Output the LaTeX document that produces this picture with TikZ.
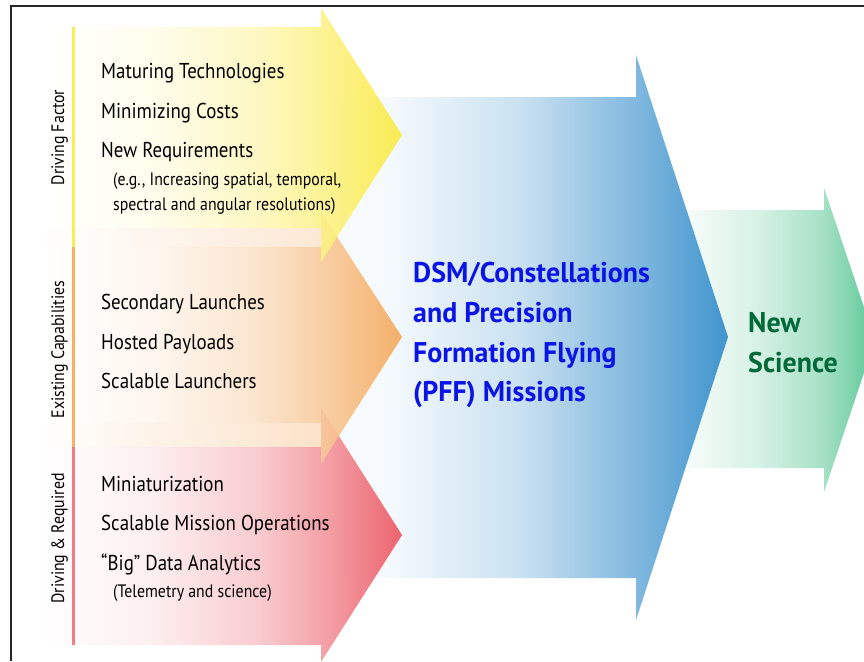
\documentclass[tikz,border=0pt]{standalone}
\usepackage{fontspec}
\setmainfont{PT Sans}
\newfontfamily\myr[FakeStretch=0.88]{PT Sans}
\newfontfamily\myb[FakeStretch=0.98]{PT Sans}
\definecolor{Y}{RGB}{250,234,60}
\definecolor{O}{RGB}{244,166,86}
\definecolor{R}{RGB}{236,80,92}
\definecolor{B}{RGB}{64,148,206}
\definecolor{G}{RGB}{92,200,150}
\definecolor{bluetxt}{RGB}{10,20,230}
\definecolor{greentxt}{RGB}{0,105,55}
\pgfdeclarehorizontalshading{yelsh}{100bp}{color(0bp)=(white); color(25bp)=(white); color(40bp)=(Y!10); color(55bp)=(Y!35); color(64bp)=(Y!62); color(75bp)=(Y); color(100bp)=(Y)}
\pgfdeclarehorizontalshading{orash}{100bp}{color(0bp)=(white); color(25bp)=(white); color(40bp)=(O!10); color(55bp)=(O!33); color(64bp)=(O!60); color(75bp)=(O); color(100bp)=(O)}
\pgfdeclarehorizontalshading{redsh}{100bp}{color(0bp)=(white); color(25bp)=(white); color(40bp)=(R!10); color(55bp)=(R!33); color(64bp)=(R!60); color(75bp)=(R); color(100bp)=(R)}
\pgfdeclarehorizontalshading{blush}{100bp}{color(0bp)=(B!3); color(25bp)=(B!3); color(32bp)=(B!5); color(49bp)=(B!28); color(63bp)=(B!65); color(75bp)=(B); color(100bp)=(B)}
\pgfdeclarehorizontalshading{grnsh}{100bp}{color(0bp)=(G!3); color(25bp)=(G!3); color(32bp)=(G!6); color(48bp)=(G!25); color(63bp)=(G!55); color(75bp)=(G); color(100bp)=(G)}
\pgfdeclarehorizontalshading{bandsh}{100bp}{color(0bp)=(white); color(25bp)=(white); color(75bp)=(O!45); color(100bp)=(O!45)}
\tikzset{
  item/.style={anchor=base west, inner sep=0pt, font=\myr\fontsize{21.5}{24}\selectfont, text=black},
  subitem/.style={anchor=base west, inner sep=0pt, font=\myr\fontsize{18}{20}\selectfont, text=black},
  side/.style={anchor=base, inner sep=0pt, rotate=90, font=\myr\fontsize{18}{20}\selectfont, text=black},
  bigtxt/.style={anchor=base west, inner sep=0pt, font=\myb\bfseries\fontsize{28.5}{32}\selectfont, text=bluetxt},
  grtxt/.style={anchor=base west, inner sep=0pt, font=\myb\bfseries\fontsize{28.5}{32}\selectfont, text=greentxt},
  arrowfill/.style={fill opacity=0.88}
}
\begin{document}
\begin{tikzpicture}[x=1pt,y=-1pt]
\useasboundingbox (0,0) rectangle (864,661);
\fill[white] (0,0) rectangle (864,661);
\clip (0,0) rectangle (864,661);
% green arrow
\shade[shading=grnsh] (660,210) -- (824,210) -- (824,188) -- (875,340) -- (824,492) -- (824,468) -- (660,468) -- cycle;
% blue arrow
\shade[shading=blush] (330,97) -- (636,97) -- (636,55) -- (728,337) -- (636,620) -- (636,578) -- (330,578) -- cycle;
% bands between small arrows
\shade[shading=bandsh, fill opacity=0.55] (42,228) rectangle (321,247);
\shade[shading=bandsh, fill opacity=0.7] (42,423) rectangle (321,447);
% red arrow
\shade[shading=redsh, arrowfill] (42,447) -- (321,447) -- (321,408) -- (402,535) -- (321,662) -- (321,645) -- (42,645) -- cycle;
% orange arrow
\shade[shading=orash, arrowfill] (42,247) -- (321,247) -- (321,212) -- (402,337) -- (321,464) -- (321,423) -- (42,423) -- cycle;
% yellow arrow
\shade[shading=yelsh, arrowfill] (42,27) -- (321,27) -- (321,8) -- (402,135) -- (321,262) -- (321,228) -- (42,228) -- cycle;
% side strips
\fill[Y!85] (72,27) rectangle (75,247);
\fill[O!90] (72,247) rectangle (75,447);
\fill[R!75] (72,447) rectangle (75,645);
% frame
\draw[line width=2pt, black!85] (11,661) -- (11,6) -- (864,6);
% side labels
\node[side] (s1) at (64,137.5) {Driving Factor};
\node[side] (s2) at (64,349.5) {Existing Capabilities};
\node[side] (s3) at (64,538.5) {Driving \& Required};
% yellow items
\node[item] (y1) at (101,78) {Maturing Technologies};
\node[item] (y2) at (101,118) {Minimizing Costs};
\node[item] (y3) at (101,157) {New Requirements};
\node[subitem] (y4) at (113,185) {(e.g., Increasing spatial, temporal,};
\node[subitem] (y5) at (113,210) {spectral and angular resolutions)};
% orange items
\node[item] (o1) at (101,309) {Secondary Launches};
\node[item] (o2) at (101,349) {Hosted Payloads};
\node[item] (o3) at (101,388) {Scalable Launchers};
% red items
\node[item] (r1) at (101,491) {Miniaturization};
\node[item] (r2) at (101,530) {Scalable Mission Operations};
\node[item] (r3) at (101,570) {“Big” Data Analytics};
\node[subitem] (r4) at (113,597) {(Telemetry and science)};
% blue title
\node[bigtxt] (b1) at (413,282) {DSM/Constellations};
\node[bigtxt] (b2) at (413,322) {and Precision};
\node[bigtxt] (b3) at (413,362) {Formation Flying};
\node[bigtxt] (b4) at (413,401) {(PFF) Missions};
% green title
\node[grtxt] (g1) at (748,332) {New};
\node[grtxt] (g2) at (748,372) {Science};
\end{tikzpicture}
\end{document}
